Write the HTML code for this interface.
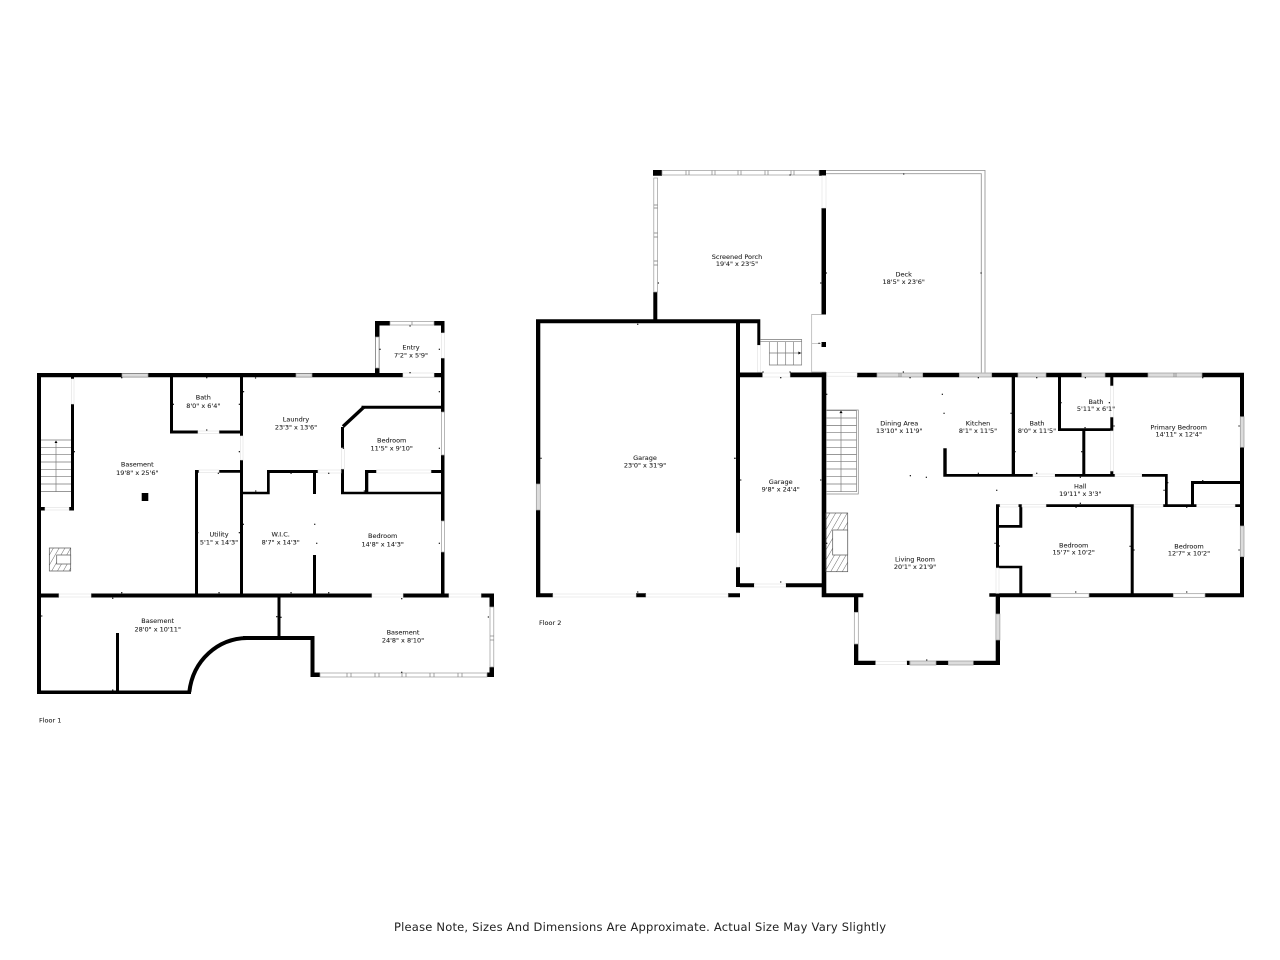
<!DOCTYPE html>
<html lang="en">
<head>
<meta charset="utf-8">
<title>Floor Plan</title>
<style>
html,body{margin:0;padding:0;background:#fff;width:1280px;height:960px;overflow:hidden}
svg{display:block;filter:blur(.3px)}
text{font-family:"DejaVu Sans","Liberation Sans",sans-serif;font-size:6.5px;fill:#222;stroke:#222;stroke-width:.08;text-anchor:middle}
.win{fill:#dcdcdc;stroke:#999;stroke-width:.7}
.wl{fill:#fff;stroke:#999;stroke-width:.7}
.dr{fill:#fff;stroke:#e0e0e0;stroke-width:.6}
.ln{fill:none;stroke:#777;stroke-width:.65}
</style>
</head>
<body>
<svg width="1280" height="960" viewBox="0 0 1280 960" xmlns="http://www.w3.org/2000/svg">
<defs>
<pattern id="h1" width="5" height="5" patternUnits="userSpaceOnUse" patternTransform="rotate(30)">
<line x1="0" y1="0" x2="0" y2="5" stroke="#444" stroke-width=".8"/>
</pattern>
</defs>
<rect width="1280" height="960" fill="#fff"/>

<!-- FLOOR 1 walls -->
<path fill="#000" d="
M37 373H444V377.3H37z
M37 373H41V694H37z
M37 690.5H191V694H37z
M71 377H74V379H71z
M71 404H74V510H71z
M41 507H45V510.5H41z
M69 507H74V510.5H69z
M170 377H173V433H170z
M170 430.5H198V433.5H170z
M219 430.5H241V433.5H219z
M240 377H243V436H240z
M240 460H243V597H240z
M195 470H198V597H195z
M195 470H199V472.7H195z
M219 470H241V472.7H219z
M37 593.5H59V597.5H37z
M91 593.5H372V597.5H91z
M403 593.5H449V597.5H403z
M481 593.5H494V597.5H481z
M116 633H119V691H116z
M277.5 597H280.5V637H277.5z
M243 636H314V640H243z
M310.5 636H314.5V677H310.5z
M311 672.5H320V677H311z
M487 672.5H494V677H487z
M489.5 593.5H494V607H489.5z
M489.5 667H494V677H489.5z
M441 358H444.5V412H441z
M441 455H444.5V521H441z
M441 552H444.5V597H441z
M375 321H379.5V373H375z
M375 321H390V325.5H375z
M434 321H444.5V325.5H434z
M441 321H444.5V333H441z
M361.5 405.7H441V408.7H361.5z
M341 427H344V448H341z
M267 470H318V473H267z
M267 470H269.7V494H267z
M241 491.7H269.7V494.3H241z
M313 470H316V494H313z
M313 555H316V597H313z
M341 469H344V494H341z
M341 491.7H441V494.3H341z
M365 470H368.3V494H365z
M365 470H376.5V473H365z
M431 470H441V473H431z
M141.7 493H148.3V501H141.7z
"/>
<path d="M343 426.5L364 407" stroke="#000" stroke-width="3.4" fill="none"/>
<path d="M189.3 692C193 660 218 638.5 247 638" stroke="#000" stroke-width="4" fill="none"/>

<!-- floor 1 white cutouts -->
<rect x="403" y="373" width="31" height="4" fill="#fff" stroke="#ddd" stroke-width=".6"/>
<rect x="122" y="373.5" width="26" height="3.5" class="win"/>
<rect x="296" y="373.5" width="16" height="3.5" class="win"/>
<rect x="198" y="431" width="21" height="2.5" class="dr"/>
<rect x="240.5" y="436" width="2.5" height="24" class="dr"/>
<rect x="199" y="470" width="20" height="2.5" class="dr"/>
<rect x="71.5" y="379" width="2.5" height="25" class="dr"/>
<rect x="45" y="507.5" width="24" height="2.5" class="dr"/>
<rect x="59" y="594" width="32" height="3" class="dr"/>
<rect x="372" y="594" width="31" height="3" class="dr"/>
<rect x="449" y="594" width="32" height="3" class="dr"/>
<rect x="318" y="470" width="23" height="3" class="dr"/>
<rect x="341.5" y="448" width="3" height="21" class="dr"/>
<rect x="376.5" y="470" width="54.5" height="3" class="dr"/>
<rect x="441.5" y="333" width="3" height="25" class="dr"/>
<rect x="441.5" y="412" width="3" height="43" class="wl"/>
<rect x="441.5" y="521" width="3" height="31" class="wl"/>
<rect x="375.5" y="337" width="3.5" height="31" class="wl"/>
<rect x="390" y="321.5" width="44" height="3.5" class="wl"/>
<line x1="412" y1="321.5" x2="412" y2="325" class="ln"/>
<rect x="320" y="673" width="167" height="4" class="wl"/>
<path class="ln" d="M347 673v4M351 673v4M375 673v4M379 673v4M402 673v4M406 673v4M430 673v4M434 673v4M458 673v4M462 673v4"/>
<rect x="490" y="607" width="3.8" height="60" class="wl"/>
<line x1="490" y1="636" x2="494" y2="636" class="ln"/>
<line x1="490" y1="640" x2="494" y2="640" class="ln"/>

<!-- floor 1 stairs & fireplace -->
<path class="ln" d="M41 440H71M41 447.3H71M41 454.6H71M41 462H71M41 469.3H71M41 476.6H71M41 484H71M41 491.5H71M56 441V492"/>
<path fill="#000" d="M56 440.5l-1.5 2.5h3z"/>
<rect x="49.3" y="548" width="21.4" height="23" fill="url(#h1)" stroke="#555" stroke-width=".7"/>
<rect x="56.7" y="555" width="14" height="9" fill="#fff" stroke="#555" stroke-width=".7"/>

<!-- FLOOR 2 walls -->
<path fill="#000" d="
M536 319.3H760.3V323.3H536z
M536 319.3H540.3V484H536z
M536 510H540.3V597.3H536z
M536 593.3H553V597.3H536z
M636 593.3H646V597.3H636z
M728 593.3H740V597.3H728z
M736 323H740V533H736z
M736 567H740V587H736z
M757.3 323H760.3V345.3H757.3z
M653.3 292H657.3V320H653.3z
M653 170H662V175.7H653z
M819 170H826V175.7H819z
M821.5 208H826V315H821.5z
M821.5 342H826V347H821.5z
M740 372.5H762.7V377.3H740z
M790 372.5H826V377.3H790z
M821.7 372H826.3V597.3H821.7z
M740 583.3H754.3V587.3H740z
M785.7 583.3H822V587.3H785.7z
M857 372.7H877V377.3H857z
M922.7 372.7H959.3V377.3H922.7z
M991.7 372.7H1018V377.3H991.7z
M1046 372.7H1081.7V377.3H1046z
M1105 372.7H1148V377.3H1105z
M1202 372.7H1244V377.3H1202z
M1240 373H1244V416.7H1240z
M1240 447.3H1244V526H1240z
M1240 556.7H1244V597.3H1240z
M1011.7 377H1015V476H1011.7z
M1058 377H1061V431H1058z
M1058 428.3H1113.3V431H1058z
M1110.3 377H1113.3V386H1110.3z
M1110.3 417H1113.3V431H1110.3z
M1110.3 471H1113.3V476H1110.3z
M1082.3 431H1085.3V476H1082.3z
M943.3 448.3H946.7V476.7H943.3z
M943.3 474H1033V476.7H943.3z
M1054.7 474H1115V476.7H1054.7z
M1141.7 474H1167.7V476.7H1141.7z
M1165 474H1167.7V507H1165z
M1163 504.3H1196.7V507H1163z
M1191 481H1194V507H1191z
M1191 481H1240V484H1191z
M1235 504.3H1240V507H1235z
M996 504.3H1000V507H996z
M1018.3 504.3H1022V507H1018.3z
M1046 504.3H1134V507H1046z
M996 504.3H999V568H996z
M997 525H1022.3V527.7H997z
M1019.3 504.3H1022.3V527.7H1019.3z
M997 565.7H1022.3V568.3H997z
M1019.3 566H1022.3V597H1019.3z
M1130.7 507H1133.7V597H1130.7z
M996 593.3H1051V597.3H996z
M1089 593.3H1173.3V597.3H1089z
M1205 593.3H1244V597.3H1205z
M989.3 593.3H1000V596.7H989.3z
M821.7 593.3H863.3V597.3H821.7z
M854 597H858.3V612.3H854z
M854 644H858.3V665H854z
M854 660.7H875.7V665H854z
M906.7 660.7H909.5V665H906.7z
M936 660.7H948.3V665H936z
M973.3 660.7H1000V665H973.3z
M995.7 597H1000V614H995.7z
M995.7 640H1000V665H995.7z
"/>

<!-- floor 2 openings and windows -->
<rect x="536.3" y="484" width="4" height="26" class="win"/>
<rect x="553" y="594" width="83" height="3" class="dr"/>
<rect x="646" y="594" width="82" height="3" class="dr"/>
<rect x="736.3" y="533" width="3" height="34" class="dr"/>
<rect x="754.3" y="584" width="31.4" height="3" class="dr"/>
<rect x="762.7" y="373" width="27.3" height="4" class="dr"/>
<rect x="757.5" y="345.3" width="3" height="26.7" class="dr"/>
<rect x="822" y="175.7" width="4" height="32.3" class="dr"/>
<rect x="827" y="372.7" width="30" height="3.5" class="dr"/>
<rect x="662" y="170.5" width="157" height="4.5" class="wl"/>
<path class="ln" d="M686 170.5v4.5M689 170.5v4.5M712 170.5v4.5M715 170.5v4.5M738 170.5v4.5M741 170.5v4.5M765 170.5v4.5M768 170.5v4.5M791 170.5v4.5M794 170.5v4.5"/>
<rect x="653.8" y="178" width="3.8" height="114" class="wl"/>
<path class="ln" d="M653.8 205h3.8M653.8 208h3.8M653.8 233h3.8M653.8 237h3.8M653.8 261h3.8M653.8 265h3.8"/>
<rect x="877" y="373" width="45.7" height="4" class="win"/>
<line x1="899" y1="373" x2="899" y2="377" class="ln"/>
<line x1="901" y1="373" x2="901" y2="377" class="ln"/>
<rect x="959.3" y="373" width="32.4" height="4" class="win"/>
<rect x="1018" y="373" width="28" height="4" class="win"/>
<rect x="1081.7" y="373" width="23.3" height="4" class="win"/>
<rect x="1148" y="373" width="54" height="4" class="win"/>
<line x1="1174" y1="373" x2="1174" y2="377" class="ln"/>
<line x1="1176" y1="373" x2="1176" y2="377" class="ln"/>
<rect x="1240.3" y="416.7" width="3.7" height="30.6" class="win"/>
<rect x="1240.3" y="526" width="3.7" height="30.7" class="win"/>
<rect x="1051" y="593.7" width="38" height="3.6" class="wl"/>
<rect x="1173.3" y="593.7" width="31.7" height="3.6" class="wl"/>
<rect x="854.3" y="612.3" width="4" height="31.7" class="wl"/>
<rect x="995.9" y="614" width="4" height="26" class="win"/>
<rect x="875.7" y="661.5" width="31" height="3.2" class="dr"/>
<rect x="910" y="661" width="26" height="4" class="win"/>
<rect x="948.3" y="661" width="25" height="4" class="win"/>
<rect x="996" y="568" width="3" height="25.3" class="dr"/>
<rect x="1000" y="504.5" width="18.3" height="2.5" class="dr"/>
<rect x="1022" y="504.5" width="24" height="2.5" class="dr"/>
<rect x="1134" y="504.5" width="29" height="2.5" class="dr"/>
<rect x="1196.7" y="504.5" width="38.3" height="2.5" class="dr"/>
<rect x="1033" y="474" width="21.7" height="2.7" class="dr"/>
<rect x="1115" y="474" width="26.7" height="2.7" class="dr"/>
<rect x="1110.6" y="386" width="2.7" height="31" class="dr"/>
<rect x="1110.6" y="431" width="2.7" height="40" class="dr"/>

<!-- deck -->
<path fill="none" stroke="#999" stroke-width=".9" d="M826 170.4H985V372.5M826 173.7H981.3V372.5"/>
<path fill="none" stroke="#aaa" stroke-width=".7" d="M826 314.4H811.7V372H826M811.7 343.3H822"/>

<!-- porch stairs -->
<path class="ln" d="M760.3 339.5H801.7V365H769.3V342M760.3 341.7H801.7M777.3 342V365M785.7 342V365M793.5 342V365M769.3 353H801.7"/>
<path fill="#000" d="M801 353l-2.6-1.5v3z"/>

<!-- main stairs -->
<path fill="none" stroke="#888" stroke-width=".7" d="M826 410H858.3V494H826"/>
<path class="ln" d="M826 410.7H856.5V491.7H826M826 418H856.5M826 425.5H856.5M826 432.7H856.5M826 440H856.5M826 447.3H856.5M826 454.5H856.5M826 461.7H856.5M826 469H856.5M826 476.7H856.5M826 484H856.5M841 411V491.7"/>
<path fill="#000" d="M841 410.5l-1.6 2.6h3.2z"/>

<!-- main fireplace -->
<rect x="826" y="513" width="21.7" height="58.7" fill="url(#h1)" stroke="#555" stroke-width=".7"/>
<rect x="832.7" y="530" width="15" height="25" fill="#fff" stroke="#555" stroke-width=".7"/>

<!-- measurement ticks -->
<path fill="none" stroke="#111" stroke-width="1.3" stroke-linecap="round" d="
M121.7 377.7h.1M206.7 377.7h.1M173.3 404.3h.1M239.3 404.3h.1M206.7 430h.1M74.3 451.7h.1M239.3 451.7h.1M218.3 473.3h.1M255.5 378h.1M243.5 391.7h.1
M410 326h.1M380 349.3h.1M439.3 349.3h.1M410 372.7h.1M439.3 391.7h.1M363.3 408.7h.1M439.3 448.3h.1M343.3 448.3h.1M291 473.3h.1M328.7 473.3h.1M255.7 491h.1M364.3 491h.1
M121.7 592.7h.1M112.7 598.3h.1M41.7 616h.1M112.7 690h.1M197.7 532.7h.1M239.3 532.7h.1M219 592.7h.1M243.3 524.3h.1
M314.7 524.3h.1M316.7 543.3h.1M439.3 543.3h.1M291 592.7h.1M328.7 592.7h.1M401.7 598.7h.1M276.7 616.7h.1M281 617.3h.1M488.3 617h.1M401.7 672.3h.1
M790 175h.1M903.7 174h.1M658.3 283h.1M820.7 283h.1M826.3 273h.1M981 273h.1M819 343.3h.1M780.7 377.7h.1M903.3 372h.1M910 377.7h.1M978.3 377.7h.1M790 372h.1M763 372h.1
M826.7 394.3h.1M942.3 394.3h.1M944 413.3h.1M910.3 475.7h.1M926.3 477.3h.1M996.7 490.3h.1M978.3 473.3h.1M734.7 458.3h.1M740.7 480h.1M820.7 480h.1M826.7 543.3h.1M995 543.3h.1M999.3 546h.1M780.7 582h.1
M1036.7 377.7h.1M1085.3 377.7h.1M1202.7 377.7h.1M1061 402.7h.1M1109.3 402.7h.1M1114 426h.1M1239 426h.1M1011 413.3h.1M1015 451.7h.1M1081.7 451.7h.1M1036.7 473.3h.1M1080.3 477.3h.1M1167.7 482.7h.1M1164 490.3h.1M1202.7 480.7h.1M1076 507.3h.1M1080.3 503.3h.1M1186.7 507.3h.1M1130 546.3h.1M1134 550h.1M1239 550h.1M1075.7 592h.1M1186.7 592h.1M1085 427.7h.1
M926.7 660h.1M637.7 324.3h.1M541 458.3h.1M735 458.3h.1M637.7 592h.1
"/>

<!-- labels -->
<text x="203.3" y="399.5">Bath</text><text x="203.3" y="408">8'0" x 6'4"</text>
<text x="137.3" y="466.6">Basement</text><text x="137.3" y="475">19'8" x 25'6"</text>
<text x="411" y="349.6">Entry</text><text x="411" y="357.6">7'2" x 5'9"</text>
<text x="296" y="421.6">Laundry</text><text x="296" y="429.6">23'3" x 13'6"</text>
<text x="391.7" y="442.3">Bedroom</text><text x="391.7" y="450.6">11'5" x 9'10"</text>
<text x="219" y="536.6">Utility</text><text x="219" y="544.6">5'1" x 14'3"</text>
<text x="280.7" y="536.3">W.I.C.</text><text x="280.7" y="544.6">8'7" x 14'3"</text>
<text x="382.7" y="538">Bedroom</text><text x="382.7" y="546.3">14'8" x 14'3"</text>
<text x="157.7" y="623">Basement</text><text x="157.7" y="631.3">28'0" x 10'11"</text>
<text x="403" y="634.6">Basement</text><text x="403" y="642.6">24'8" x 8'10"</text>
<text x="39" y="722.3" style="text-anchor:start">Floor 1</text>
<text x="539" y="625" style="text-anchor:start">Floor 2</text>
<text x="645" y="460">Garage</text><text x="645" y="467.3">23'0" x 31'9"</text>
<text x="780.7" y="484">Garage</text><text x="780.7" y="491.6">9'8" x 24'4"</text>
<text x="737" y="259">Screened Porch</text><text x="737" y="266">19'4" x 23'5"</text>
<text x="903.7" y="276.6">Deck</text><text x="903.7" y="284">18'5" x 23'6"</text>
<text x="899.3" y="425.6">Dining Area</text><text x="899.3" y="433">13'10" x 11'9"</text>
<text x="978" y="425.6">Kitchen</text><text x="978" y="433">8'1" x 11'5"</text>
<text x="915" y="561.6">Living Room</text><text x="915" y="569">20'1" x 21'9"</text>
<text x="1037" y="425.6">Bath</text><text x="1037" y="433">8'0" x 11'5"</text>
<text x="1096" y="404">Bath</text><text x="1096" y="411">5'11" x 6'1"</text>
<text x="1178.7" y="429.3">Primary Bedroom</text><text x="1178.7" y="436.3">14'11" x 12'4"</text>
<text x="1080.3" y="488.6">Hall</text><text x="1080.3" y="496">19'11" x 3'3"</text>
<text x="1073.7" y="547.3">Bedroom</text><text x="1073.7" y="554.6">15'7" x 10'2"</text>
<text x="1189" y="548.3">Bedroom</text><text x="1189" y="555.6">12'7" x 10'2"</text>

<text x="640" y="931" style="font-size:11.5px;fill:#222;stroke:none" textLength="492" lengthAdjust="spacing">Please Note, Sizes And Dimensions Are Approximate. Actual Size May Vary Slightly</text>
</svg>
</body>
</html>
